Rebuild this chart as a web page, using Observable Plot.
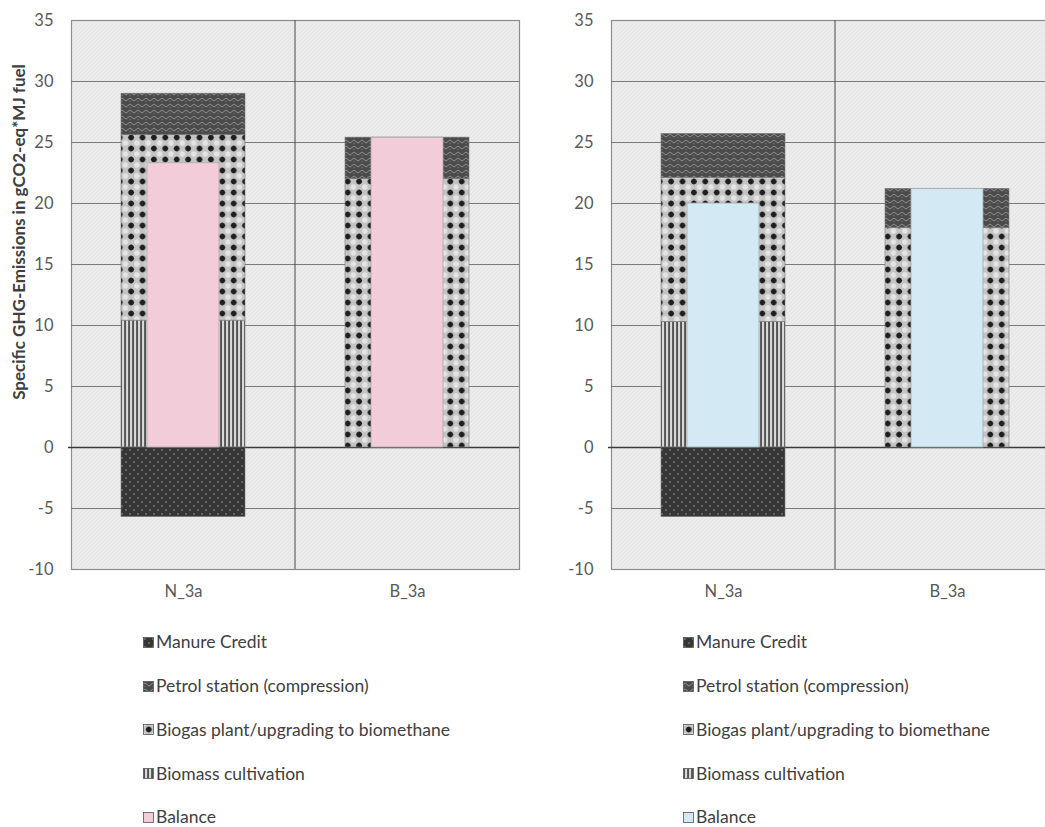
<!DOCTYPE html>
<html>
<head>
<meta charset="utf-8">
<script src="https://cdn.jsdelivr.net/npm/d3@7"></script>
<script src="https://cdn.jsdelivr.net/npm/@observablehq/plot@0.6"></script>
<style>
  body { margin: 0; width: 1045px; height: 827px; overflow: hidden; background: #fff; position: relative;
         font-family: Lato, "Open Sans", "Liberation Sans", sans-serif; }
  .chart { position: absolute; top: 0; width: 560px; }
  .legend { position: absolute; top: 620px; }
  .legend .row { height: 43.8px; display: flex; align-items: center; font-size: 17.5px; line-height: 1; color: #404040; }
  .legend svg { margin: 1px 2px 0 0; flex: none; }
  #ylab { position: absolute; left: 18px; top: 232px; transform: translate(-50%, -50%) rotate(-90deg);
          white-space: nowrap; font-weight: bold; font-size: 17px; color: #404040; }
</style>
</head>
<body>
<svg width="0" height="0" style="position:absolute">
  <defs>
    <pattern id="bgHatch" width="4" height="4" patternUnits="userSpaceOnUse">
      <rect width="4" height="4" fill="#eeeeee"/>
      <path d="M0,4 L4,0 M-1,1 L1,-1 M3,5 L5,3" stroke="#dadada" stroke-width="0.9"/>
    </pattern>
    <pattern id="patManure" width="8" height="8" patternUnits="userSpaceOnUse">
      <rect width="8" height="8" fill="#363636"/>
      <circle cx="2" cy="2" r="0.8" fill="#9c9c9c"/>
      <circle cx="6" cy="6" r="0.8" fill="#9c9c9c"/>
    </pattern>
    <pattern id="patPetrol" width="8" height="6" patternUnits="userSpaceOnUse">
      <rect width="8" height="6" fill="#4b4b4b"/>
      <path d="M0,3.5 Q2,0.5 4,3.5 T8,3.5" stroke="#8e8e8e" stroke-width="1" fill="none"/>
      <path d="M1,6 L3,5" stroke="#777" stroke-width="0.8"/>
    </pattern>
    <pattern id="patBiogas" width="11.4" height="11" patternUnits="userSpaceOnUse">
      <rect width="11.4" height="11" fill="#c4c4c4"/>
      <circle cx="0" cy="0" r="2.7" fill="#e4e4e4"/>
      <circle cx="11.4" cy="0" r="2.7" fill="#e4e4e4"/>
      <circle cx="0" cy="11" r="2.7" fill="#e4e4e4"/>
      <circle cx="11.4" cy="11" r="2.7" fill="#e4e4e4"/>
      <path d="M2.7,5.5 H8.7 M5.7,2.5 V8.5" stroke="#2a2a2a" stroke-width="1.2"/>
      <circle cx="5.7" cy="5.5" r="2.8" fill="#1e1e1e"/>
    </pattern>
    <pattern id="patBiomass" width="4" height="4" patternUnits="userSpaceOnUse">
      <rect width="4" height="4" fill="#c2c2c2"/>
      <rect x="0.3" width="1.5" height="4" fill="#363636"/>
      <rect x="2.6" width="0.9" height="4" fill="#f2f2f2"/>
    </pattern>
  </defs>
</svg>

<div id="left" class="chart" style="left:0px"></div>
<div id="right" class="chart" style="left:540px"></div>
<div id="ylab">Specific GHG-Emissions in gCO2-eq*MJ fuel</div>
<div id="legendLeft" class="legend" style="left:143px"></div>
<div id="legendRight" class="legend" style="left:683px"></div>

<script>
// Scenarios on the x axis
const categories = ["N_3a", "B_3a"];

// Emission components (stacking order, bottom to top for positives)
const components = [
  "Biomass cultivation",
  "Biogas plant/upgrading to biomethane",
  "Petrol station (compression)",
  "Manure Credit"
];
const legendOrder = [
  "Manure Credit",
  "Petrol station (compression)",
  "Biogas plant/upgrading to biomethane",
  "Biomass cultivation",
  "Balance"
];

// Left panel values, gCO2-eq/MJ fuel, per category
const biomassLeft = [10.4, 0];
const biogasLeft = [15.2, 22.0];
const petrolLeft = [3.4, 3.4];
const manureLeft = [-5.7, 0];
const balanceLeft = [23.3, 25.4];

// Right panel values
const biomassRight = [10.3, 0];
const biogasRight = [11.8, 18.0];
const petrolRight = [3.6, 3.2];
const manureRight = [-5.7, 0];
const balanceRight = [20.0, 21.2];

const yTicks = [-10, -5, 0, 5, 10, 15, 20, 25, 30, 35];

const patternOf = {
  "Biomass cultivation": "url(#patBiomass)",
  "Biogas plant/upgrading to biomethane": "url(#patBiogas)",
  "Petrol station (compression)": "url(#patPetrol)",
  "Manure Credit": "url(#patManure)"
};

function componentRows(values) {
  const rows = [];
  components.forEach((name, k) => {
    categories.forEach((cat, i) => {
      const v = values[k][i];
      if (v !== 0) rows.push({category: cat, component: name, value: v});
    });
  });
  return rows;
}

// Vertical separators between category bands
function bandDividers(index, scales, values, dims) {
  const x = scales.x;
  const step = typeof x.step === "function" ? x.step() : (dims.width - dims.marginLeft - dims.marginRight) / categories.length;
  const bw = typeof x.bandwidth === "function" ? x.bandwidth() : step;
  const g = d3.create("svg:g");
  g.selectAll("line")
    .data(categories.slice(1))
    .join("line")
    .attr("x1", c => x(c) - (step - bw) / 2)
    .attr("x2", c => x(c) - (step - bw) / 2)
    .attr("y1", dims.marginTop)
    .attr("y2", dims.height - dims.marginBottom)
    .attr("stroke", "#4a4a4a")
    .attr("stroke-width", 1);
  return g.node();
}

function panel(values, balance, balanceColor) {
  const rows = componentRows(values);
  const balanceRows = categories.map((c, i) => ({category: c, value: balance[i]}));
  return Plot.plot({
    width: 560,
    height: 609,
    marginLeft: 71,
    marginRight: 41,
    marginTop: 20,
    marginBottom: 40,
    style: {fontFamily: "Lato, 'Open Sans', sans-serif", fontSize: "16.5px", color: "#595959", background: "transparent", maxWidth: "none"},
    x: {domain: categories, paddingInner: 0.446, paddingOuter: 0.223, label: null, tickSize: 0, tickPadding: 16},
    y: {domain: [-10, 35], ticks: yTicks, tickFormat: d => String(d), label: null, tickSize: 0, tickPadding: 18},
    color: {type: "identity"},
    marks: [
      Plot.frame({fill: "url(#bgHatch)", stroke: "#8c8c8c", strokeWidth: 1.2}),
      Plot.ruleY(yTicks.filter(t => t !== 0 && t !== -10 && t !== 35), {stroke: "#7a7a7a", strokeWidth: 1.1}),
      bandDividers,
      Plot.ruleY([0], {stroke: "#3a3a3a", strokeWidth: 1.3, insetLeft: -3}),
      Plot.barY(rows, {
        x: "category",
        y: "value",
        fill: d => patternOf[d.component],
        stroke: "#7a7a7a",
        strokeWidth: 0.6
      }),
      Plot.barY(balanceRows, {
        x: "category",
        y: "value",
        fill: balanceColor,
        stroke: "#a8a8a8",
        strokeWidth: 0.8,
        insetLeft: 26,
        insetRight: 26
      })
    ]
  });
}

function legend(el, balanceColor) {
  const fills = Object.assign({}, patternOf, {"Balance": balanceColor});
  const root = d3.select(el);
  legendOrder.forEach(name => {
    const row = root.append("div").attr("class", "row");
    const sw = row.append("svg").attr("width", 11).attr("height", 11);
    sw.append("rect").attr("x", 0.5).attr("y", 0.5).attr("width", 10).attr("height", 10)
      .attr("fill", fills[name]).attr("stroke", "#555").attr("stroke-width", 0.8);
    row.append("span").text(name);
  });
}

document.getElementById("left").append(
  panel([biomassLeft, biogasLeft, petrolLeft, manureLeft], balanceLeft, "#f2cdd9")
);
document.getElementById("right").append(
  panel([biomassRight, biogasRight, petrolRight, manureRight], balanceRight, "#d3eaf4")
);
legend(document.getElementById("legendLeft"), "#f2cdd9");
legend(document.getElementById("legendRight"), "#d3eaf4");
</script>
</body>
</html>
